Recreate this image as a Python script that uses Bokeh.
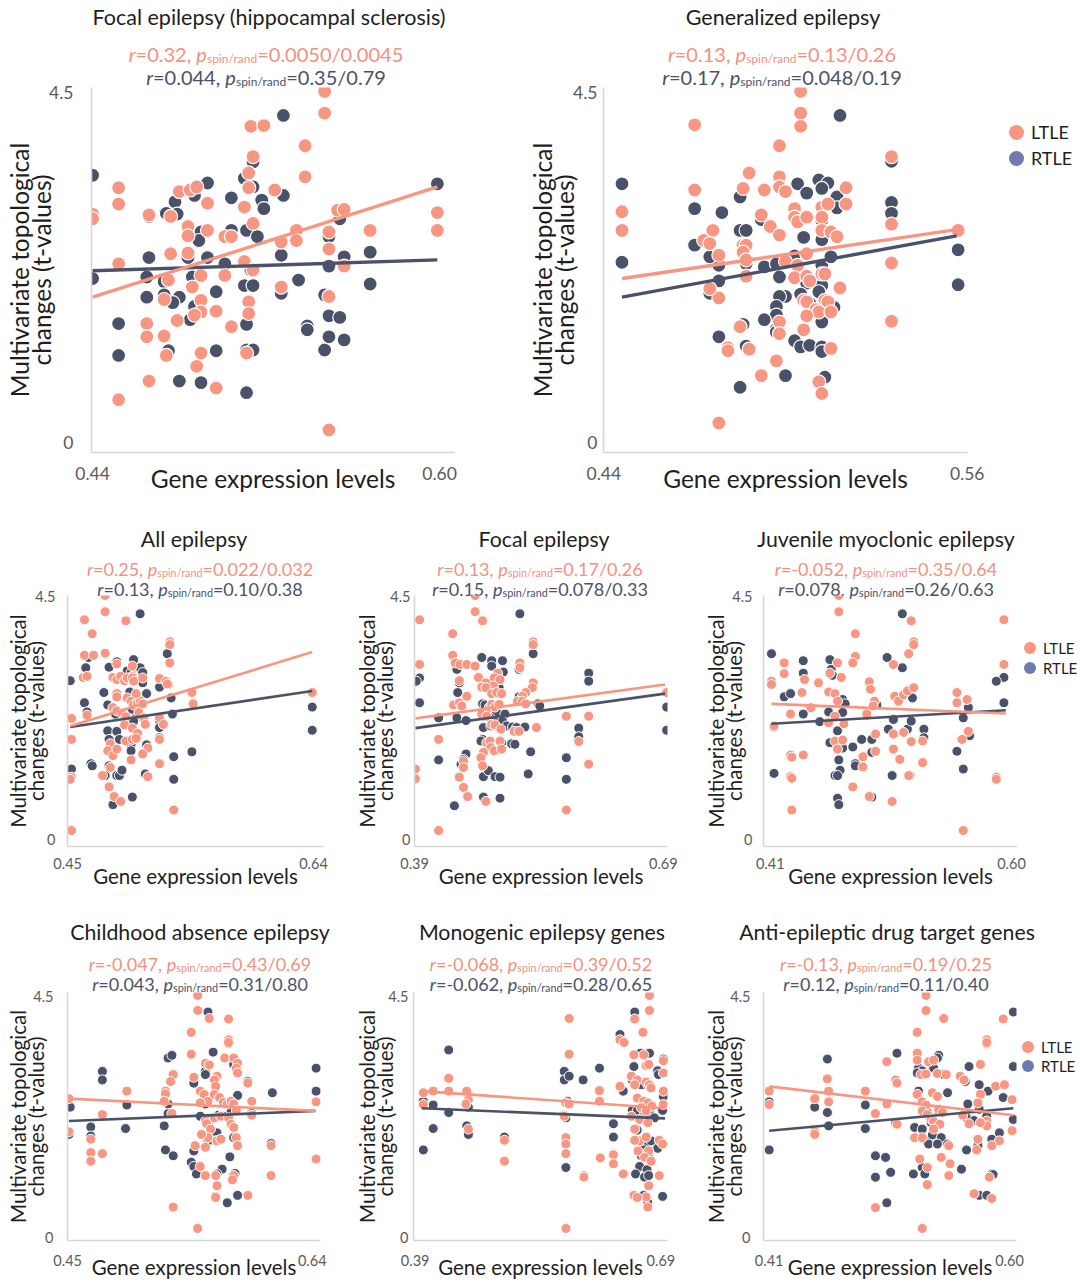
from bokeh.plotting import figure
from bokeh.models import (ColumnDataSource, FixedTicker, NumeralTickFormatter,
                          Range1d, Div)
from bokeh.layouts import row, column
from bokeh.embed import file_html
from bokeh.resources import INLINE

SALMON = "#F89682"
SALMON_TXT = "#F4917E"
NAVY = "#4A526A"
LEG_NAVY = "#6E7BB0"
FONT = "Lato"

# ----------------------------- data -----------------------------
y_tick_values = [0, 4.5]
x_axis_title = "Gene expression levels"
y_axis_title = "Multivariate topological\nchanges (t-values)"
legend_labels = ["LTLE", "RTLE"]

# Focal epilepsy (hippocampal sclerosis)
hs_title = "Focal epilepsy (hippocampal sclerosis)"
hs_stats = [("0.32", "0.0050/0.0045"), ("0.044", "0.35/0.79")]
hs_xticks = [0.44, 0.60]
hs_ltle_x = [0.547,0.547,0.513,0.519,0.538,0.514,0.538,0.512,0.512,0.452,0.480,0.485,0.488,0.524,0.493,0.452,0.510,0.440,0.440,0.466,0.476,0.553,0.556,0.599,0.599,0.568,0.549,0.534,0.484,0.493,0.514,0.484,0.501,0.504,0.527,0.534,0.452,0.476,0.484,0.501,0.510,0.514,0.475,0.473,0.490,0.486,0.497,0.527,0.549,0.556,0.549,0.465,0.465,0.473,0.474,0.479,0.490,0.490,0.487,0.490,0.504,0.512,0.512,0.511,0.488,0.466,0.497,0.452,0.549]
hs_ltle_y = [4.52,4.24,4.07,4.08,3.82,3.68,3.42,3.47,3.28,3.28,3.23,3.25,3.29,3.25,3.08,3.07,3.03,2.94,2.88,2.93,2.91,2.99,3.00,2.96,2.73,2.73,2.71,2.73,2.78,2.73,2.82,2.66,2.65,2.65,2.58,2.60,2.30,2.43,2.44,2.15,2.33,2.22,2.09,1.84,2.15,2.00,1.69,2.00,1.88,2.27,2.49,1.53,1.36,1.37,1.12,1.57,1.83,1.68,1.64,1.15,1.49,1.81,1.66,1.15,0.98,0.79,0.70,0.55,0.16]
hs_rtle_x = [0.528,0.514,0.440,0.510,0.514,0.493,0.487,0.528,0.504,0.478,0.518,0.519,0.599,0.466,0.474,0.479,0.554,0.549,0.490,0.504,0.511,0.489,0.516,0.568,0.466,0.484,0.493,0.501,0.513,0.527,0.440,0.465,0.473,0.473,0.480,0.477,0.465,0.486,0.510,0.514,0.497,0.527,0.535,0.547,0.568,0.556,0.549,0.452,0.452,0.475,0.487,0.485,0.497,0.511,0.511,0.514,0.480,0.490,0.511,0.539,0.539,0.547,0.549,0.554,0.549,0.556]
hs_rtle_y = [4.21,3.61,3.44,3.40,3.29,3.34,3.18,3.18,3.15,3.10,3.12,3.01,3.33,2.91,2.95,2.94,2.88,2.65,2.71,2.73,2.73,2.60,2.65,2.45,2.38,2.38,2.38,2.30,2.22,2.41,2.11,2.13,2.07,1.90,1.87,1.80,1.87,2.13,2.02,2.02,1.94,1.92,2.09,1.90,2.04,2.39,2.27,1.53,1.12,1.18,1.75,1.58,1.18,1.52,1.19,1.19,0.79,0.77,0.64,1.50,1.45,1.19,1.63,1.61,1.36,1.32]
hs_fit_x = [0.440, 0.599]
hs_fit_ltle = [1.87, 3.29]
hs_fit_rtle = [2.21, 2.35]

# Generalized epilepsy
ge_title = "Generalized epilepsy"
ge_stats = [("0.13", "0.13/0.26"), ("0.17", "0.048/0.19")]
ge_xticks = [0.44, 0.56]
ge_ltle_x = [0.505,0.505,0.505,0.470,0.498,0.535,0.488,0.498,0.498,0.520,0.470,0.486,0.493,0.500,0.520,0.535,0.446,0.446,0.492,0.503,0.503,0.504,0.507,0.512,0.514,0.512,0.476,0.495,0.498,0.512,0.515,0.517,0.557,0.473,0.475,0.486,0.487,0.478,0.486,0.487,0.500,0.504,0.507,0.512,0.513,0.535,0.535,0.478,0.475,0.487,0.503,0.507,0.508,0.518,0.506,0.507,0.513,0.514,0.510,0.511,0.515,0.498,0.507,0.485,0.498,0.506,0.481,0.481,0.488,0.515,0.497,0.492,0.511,0.512,0.478]
ge_ltle_y = [4.52,4.24,4.07,4.09,3.82,3.68,3.47,3.42,3.29,3.28,3.25,3.27,3.25,3.23,3.07,2.81,2.97,2.73,2.93,3.01,2.90,2.84,2.90,3.03,3.07,2.90,2.73,2.78,2.67,2.73,2.71,2.65,2.73,2.60,2.56,2.54,2.54,2.41,2.45,2.35,2.33,2.28,2.43,2.17,2.17,2.31,1.56,1.86,1.98,2.14,2.12,2.14,2.08,1.99,1.83,1.81,1.83,1.81,1.71,1.68,1.68,1.55,1.63,1.49,1.40,1.45,1.22,1.18,1.20,1.21,1.05,0.86,0.78,0.63,0.25]
ge_rtle_x = [0.518,0.535,0.446,0.504,0.511,0.514,0.507,0.512,0.485,0.517,0.535,0.535,0.470,0.479,0.492,0.517,0.512,0.485,0.487,0.506,0.512,0.470,0.557,0.446,0.478,0.475,0.487,0.493,0.497,0.503,0.512,0.515,0.557,0.478,0.475,0.498,0.507,0.512,0.500,0.498,0.505,0.508,0.511,0.516,0.497,0.497,0.512,0.512,0.493,0.486,0.497,0.497,0.478,0.487,0.503,0.505,0.508,0.512,0.512,0.500,0.485,0.513]
ge_rtle_y = [4.21,3.62,3.33,3.33,3.38,3.34,3.21,3.27,3.16,3.16,3.09,2.95,3.01,2.96,2.87,3.02,2.86,2.73,2.73,2.64,2.61,2.54,2.48,2.32,2.28,2.39,2.30,2.26,2.30,2.40,2.28,2.39,2.03,2.08,1.92,2.13,2.05,2.02,1.88,1.88,1.91,1.79,1.94,1.74,1.75,1.64,1.63,1.55,1.58,1.52,1.46,1.42,1.36,1.24,1.31,1.23,1.25,1.23,1.17,0.86,0.71,0.84]
ge_fit_x = [0.446, 0.5565]
ge_fit_ltle = [2.11, 2.74]
ge_fit_rtle = [1.87, 2.66]

# All epilepsy
all_title = "All epilepsy"
all_stats = [("0.25", "0.022/0.032"), ("0.13", "0.10/0.38")]
all_xticks = [0.45, 0.64]
all_ltle_x = [0.479,0.479,0.463,0.495,0.469,0.529,0.529,0.463,0.470,0.479,0.488,0.500,0.500,0.529,0.521,0.526,0.528,0.462,0.465,0.485,0.488,0.491,0.494,0.496,0.500,0.501,0.508,0.488,0.488,0.496,0.499,0.501,0.504,0.506,0.508,0.503,0.527,0.546,0.547,0.639,0.465,0.453,0.453,0.485,0.488,0.492,0.495,0.505,0.509,0.510,0.494,0.500,0.504,0.521,0.524,0.483,0.481,0.485,0.488,0.495,0.500,0.503,0.512,0.508,0.499,0.521,0.521,0.453,0.452,0.477,0.483,0.482,0.486,0.491,0.512,0.532,0.453]
all_ltle_y = [4.52,4.22,4.07,4.05,3.81,3.66,3.61,3.41,3.41,3.45,3.25,3.21,3.02,3.27,2.98,2.93,2.87,3.00,3.02,3.00,2.96,3.02,2.94,2.99,2.99,2.93,2.99,2.70,2.64,2.62,2.56,2.49,2.53,2.57,2.51,2.70,2.88,2.72,2.51,2.72,2.30,2.24,1.85,2.44,2.38,2.33,2.27,2.35,2.25,2.13,2.12,2.06,1.96,2.25,2.13,1.77,1.64,1.55,1.67,1.82,1.85,1.87,1.69,1.58,1.47,1.85,1.40,1.15,1.11,1.18,1.33,0.97,0.79,0.70,1.16,0.54,0.16]
all_rtle_x = [0.506,0.529,0.527,0.466,0.482,0.488,0.501,0.496,0.499,0.506,0.508,0.452,0.464,0.508,0.478,0.498,0.511,0.521,0.530,0.547,0.639,0.639,0.463,0.465,0.453,0.481,0.487,0.500,0.503,0.496,0.501,0.521,0.521,0.531,0.481,0.488,0.490,0.482,0.499,0.499,0.511,0.521,0.532,0.546,0.453,0.468,0.469,0.478,0.479,0.482,0.488,0.490,0.492,0.485,0.500,0.510,0.532]
all_rtle_y = [4.18,3.60,3.44,3.37,3.19,3.29,3.33,3.12,3.09,3.18,3.09,2.94,3.18,2.90,2.72,2.73,2.70,2.82,2.62,2.51,2.45,2.02,2.53,2.36,2.24,2.49,2.32,2.41,2.25,2.19,2.19,2.20,2.07,2.32,2.01,2.00,1.85,1.85,1.76,1.64,1.75,1.88,1.53,1.62,1.30,1.40,1.36,1.18,1.18,1.36,1.18,1.18,1.28,0.64,0.78,1.21,1.11]
all_fit_x = [0.452, 0.639]
all_fit_ltle = [2.10, 3.47]
all_fit_rtle = [2.08, 2.75]

# Focal epilepsy
fe_title = "Focal epilepsy"
fe_stats = [("0.13", "0.17/0.26"), ("0.15", "0.078/0.33")]
fe_xticks = [0.39, 0.69]
fe_ltle_x = [0.463,0.463,0.396,0.472,0.436,0.533,0.533,0.396,0.436,0.439,0.445,0.453,0.463,0.490,0.486,0.493,0.444,0.467,0.476,0.485,0.453,0.471,0.476,0.483,0.489,0.495,0.517,0.517,0.533,0.532,0.524,0.520,0.514,0.520,0.524,0.437,0.444,0.447,0.480,0.485,0.483,0.487,0.492,0.471,0.477,0.483,0.487,0.494,0.510,0.516,0.537,0.573,0.600,0.588,0.694,0.419,0.477,0.481,0.482,0.486,0.493,0.495,0.473,0.470,0.472,0.449,0.449,0.600,0.444,0.391,0.391,0.449,0.454,0.476,0.573,0.419]
fe_ltle_y = [4.52,4.22,4.07,4.05,3.81,3.66,3.61,3.24,3.41,3.27,3.24,3.24,3.21,3.08,2.99,2.96,2.94,3.00,2.90,2.84,2.65,2.82,2.81,2.70,2.72,2.70,3.27,3.18,2.90,2.81,2.72,2.65,2.56,2.56,2.51,2.49,2.53,2.47,2.44,2.47,2.50,2.45,2.50,2.32,2.28,2.13,2.12,2.04,2.00,2.00,2.07,2.28,2.28,1.81,2.72,1.85,1.79,1.82,1.70,1.64,1.82,1.67,1.61,1.51,1.36,1.45,1.33,1.39,1.15,1.30,1.12,0.96,0.79,0.70,0.54,0.16]
fe_rtle_x = [0.517,0.533,0.533,0.396,0.392,0.396,0.441,0.471,0.483,0.483,0.496,0.497,0.444,0.478,0.442,0.492,0.516,0.516,0.539,0.541,0.472,0.475,0.489,0.499,0.474,0.481,0.486,0.419,0.441,0.452,0.496,0.501,0.473,0.482,0.508,0.513,0.523,0.588,0.588,0.694,0.694,0.600,0.600,0.472,0.470,0.495,0.507,0.511,0.452,0.449,0.446,0.419,0.530,0.573,0.444,0.473,0.479,0.487,0.493,0.527,0.573,0.438,0.473,0.493]
fe_rtle_y = [4.18,3.60,3.44,2.99,2.93,2.53,3.15,3.37,3.31,3.21,3.31,3.10,2.90,2.87,2.72,2.81,3.15,2.64,2.51,2.47,2.51,2.49,2.35,2.32,2.28,2.25,2.19,2.25,2.25,2.20,2.19,2.10,2.07,2.10,2.08,2.07,2.08,2.06,1.90,2.45,2.02,3.08,2.93,1.85,1.82,1.79,1.77,1.76,1.58,1.48,1.39,1.47,1.62,1.51,1.16,1.16,1.27,1.16,1.15,1.21,1.11,0.62,0.78,0.76]
fe_fit_x = [0.391, 0.692]
fe_fit_ltle = [2.24, 2.87]
fe_fit_rtle = [2.06, 2.70]

# Juvenile myoclonic epilepsy
jme_title = "Juvenile myoclonic epilepsy"
jme_stats = [("-0.052", "0.35/0.64"), ("0.078", "0.26/0.63")]
jme_xticks = [0.41, 0.60]
jme_ltle_x = [0.464,0.464,0.521,0.594,0.477,0.523,0.523,0.519,0.421,0.477,0.594,0.437,0.421,0.457,0.463,0.475,0.507,0.466,0.411,0.411,0.435,0.448,0.456,0.461,0.463,0.488,0.489,0.492,0.491,0.508,0.511,0.515,0.518,0.523,0.515,0.507,0.521,0.426,0.442,0.413,0.456,0.461,0.468,0.461,0.463,0.467,0.486,0.493,0.493,0.530,0.557,0.557,0.565,0.566,0.561,0.507,0.512,0.519,0.530,0.426,0.427,0.426,0.427,0.436,0.483,0.483,0.475,0.488,0.506,0.427,0.588,0.588,0.562]
jme_ltle_y = [4.52,4.22,4.05,4.07,3.81,3.66,3.61,3.44,3.27,3.39,3.24,2.96,3.07,3.08,3.27,3.27,3.24,3.00,2.93,2.87,2.72,2.90,2.73,2.70,2.56,2.92,2.78,2.56,2.47,2.65,2.56,2.68,2.75,2.81,1.98,1.95,1.81,2.32,2.44,2.10,2.16,2.28,2.14,1.82,1.67,1.84,2.32,1.95,1.63,1.82,2.72,2.53,2.59,2.00,1.85,1.67,1.48,1.18,1.42,1.56,1.52,1.16,1.13,1.56,1.53,1.34,0.97,0.79,0.70,0.54,1.15,1.11,0.16]
jme_rtle_x = [0.514,0.523,0.411,0.594,0.588,0.594,0.436,0.436,0.457,0.458,0.459,0.502,0.514,0.421,0.426,0.467,0.469,0.467,0.488,0.494,0.522,0.507,0.503,0.518,0.521,0.436,0.449,0.413,0.456,0.463,0.467,0.475,0.457,0.486,0.482,0.490,0.490,0.531,0.531,0.562,0.566,0.567,0.557,0.562,0.506,0.520,0.426,0.413,0.464,0.465,0.461,0.463,0.477,0.477,0.463,0.464,0.490]
jme_rtle_y = [4.18,3.60,3.44,3.00,2.93,2.53,3.31,3.08,3.33,3.15,3.04,3.37,3.18,2.64,2.70,2.59,2.51,2.35,2.90,2.49,2.62,2.22,2.04,2.04,2.19,2.32,2.18,2.08,2.36,2.01,1.69,1.71,1.79,2.30,1.85,1.85,1.61,2.04,1.88,2.25,2.44,1.92,1.63,1.30,1.18,1.18,1.53,1.22,1.47,1.28,1.18,1.18,1.40,1.36,0.76,0.64,0.78]
jme_fit_x = [0.411, 0.5955]
jme_fit_ltle = [2.51, 2.33]
jme_fit_rtle = [2.14, 2.39]

# Childhood absence epilepsy
cae_title = "Childhood absence epilepsy"
cae_stats = [("-0.047", "0.43/0.69"), ("0.043", "0.31/0.80")]
cae_xticks = [0.45, 0.64]
cae_ltle_x = [0.551,0.551,0.560,0.575,0.546,0.575,0.575,0.546,0.557,0.560,0.572,0.579,0.582,0.581,0.582,0.566,0.548,0.532,0.530,0.564,0.565,0.477,0.590,0.643,0.643,0.451,0.451,0.496,0.526,0.526,0.525,0.531,0.553,0.556,0.559,0.553,0.564,0.568,0.571,0.574,0.577,0.579,0.581,0.593,0.593,0.564,0.569,0.557,0.558,0.561,0.559,0.566,0.569,0.575,0.577,0.579,0.581,0.582,0.554,0.557,0.549,0.553,0.557,0.565,0.579,0.578,0.566,0.565,0.590,0.608,0.608,0.468,0.468,0.477,0.468,0.532,0.551]
cae_ltle_y = [4.52,4.24,4.09,4.08,3.83,3.69,3.64,3.42,3.25,3.22,3.35,3.35,3.25,3.16,3.07,3.01,2.99,3.04,2.91,2.94,2.82,2.29,2.88,2.53,1.46,2.59,1.97,2.73,2.73,2.68,2.54,2.31,2.73,2.67,2.54,2.51,2.67,2.61,2.52,2.49,2.54,2.49,2.37,2.54,2.28,2.23,2.26,2.17,2.12,2.02,1.86,1.80,1.83,2.23,2.11,2.05,1.86,1.71,1.92,1.68,1.71,1.32,1.15,1.15,1.15,1.07,0.96,0.74,0.78,1.71,1.15,1.58,1.42,1.56,1.83,0.56,0.16]
cae_rtle_x = [0.559,0.575,0.528,0.531,0.563,0.557,0.557,0.579,0.548,0.477,0.477,0.590,0.609,0.643,0.643,0.452,0.451,0.496,0.495,0.528,0.528,0.525,0.526,0.532,0.557,0.572,0.577,0.582,0.593,0.567,0.571,0.561,0.553,0.566,0.565,0.579,0.576,0.559,0.548,0.546,0.548,0.550,0.570,0.580,0.566,0.565,0.574,0.582,0.608,0.468,0.468]
cae_rtle_y = [4.21,3.62,3.35,3.40,3.46,3.10,3.04,3.23,2.88,3.10,2.94,2.91,2.70,3.16,2.73,2.43,1.92,2.47,2.03,2.49,2.31,2.08,1.63,1.52,2.49,2.49,2.36,2.65,2.31,2.28,2.26,2.20,2.26,1.95,1.80,1.86,1.50,1.80,1.61,1.40,1.32,1.18,1.27,1.19,1.18,0.76,0.64,0.78,1.75,2.06,1.89]
cae_fit_x = [0.451, 0.6425]
cae_fit_ltle = [2.59, 2.36]
cae_fit_rtle = [2.17, 2.36]

# Monogenic epilepsy genes
mono_title = "Monogenic epilepsy genes"
mono_stats = [("-0.068", "0.39/0.52"), ("-0.062", "0.28/0.65")]
mono_xticks = [0.39, 0.69]
mono_ltle_x = [0.676,0.676,0.658,0.578,0.668,0.640,0.645,0.431,0.578,0.657,0.669,0.672,0.675,0.693,0.693,0.640,0.654,0.661,0.658,0.672,0.676,0.678,0.615,0.615,0.400,0.400,0.412,0.431,0.453,0.455,0.452,0.574,0.578,0.572,0.693,0.693,0.661,0.669,0.674,0.679,0.666,0.672,0.654,0.664,0.674,0.632,0.632,0.616,0.455,0.499,0.499,0.574,0.574,0.574,0.596,0.596,0.644,0.658,0.664,0.672,0.658,0.675,0.662,0.670,0.678,0.675,0.657,0.672,0.674,0.688,0.688,0.692,0.661,0.574]
mono_ltle_y = [4.52,4.24,4.08,4.09,3.83,3.69,3.64,2.97,3.42,3.41,3.41,3.21,3.23,3.30,3.07,2.82,3.01,2.94,2.85,2.90,2.85,2.79,2.74,2.54,2.70,2.48,2.73,2.73,2.73,2.57,2.49,2.51,2.49,2.26,2.73,2.48,2.60,2.54,2.51,2.45,2.42,2.36,2.26,2.20,2.14,1.54,1.37,1.48,2.02,1.81,1.42,1.86,1.74,1.56,1.15,1.12,1.18,2.02,1.80,1.87,1.81,1.61,1.61,1.49,1.42,0.96,0.78,0.75,0.56,1.15,1.81,1.74,0.74,0.16]
mono_rtle_x = [0.658,0.640,0.431,0.665,0.676,0.657,0.615,0.693,0.686,0.687,0.572,0.572,0.578,0.595,0.644,0.655,0.666,0.674,0.615,0.400,0.412,0.431,0.455,0.576,0.572,0.574,0.693,0.692,0.655,0.661,0.670,0.676,0.682,0.632,0.632,0.400,0.412,0.455,0.453,0.499,0.574,0.645,0.661,0.668,0.674,0.678,0.669,0.666,0.675,0.664,0.659,0.673,0.670,0.675,0.669,0.674,0.692,0.686]
mono_rtle_y = [4.21,3.79,3.50,3.44,3.44,3.19,3.16,3.33,3.11,3.04,3.10,2.94,3.01,2.94,2.73,2.94,2.85,2.85,2.73,2.54,2.47,2.33,2.43,2.54,2.28,2.23,2.63,2.37,2.37,2.36,2.29,2.31,2.23,2.12,1.87,1.63,2.03,1.92,2.08,1.87,1.30,1.18,2.00,1.81,1.74,1.80,1.63,1.52,1.49,1.32,1.18,1.26,1.12,1.15,0.78,0.64,0.76,1.66]
mono_fit_x = [0.398, 0.695]
mono_fit_ltle = [2.73, 2.41]
mono_fit_rtle = [2.41, 2.22]

# Anti-epileptic drug target genes
aed_title = "Anti-epileptic drug target genes"
aed_stats = [("-0.13", "0.19/0.25"), ("0.12", "0.11/0.40")]
aed_xticks = [0.41, 0.60]
aed_ltle_x = [0.534,0.534,0.548,0.595,0.527,0.582,0.582,0.503,0.527,0.527,0.536,0.540,0.530,0.534,0.543,0.550,0.577,0.561,0.564,0.510,0.511,0.456,0.589,0.577,0.575,0.527,0.531,0.534,0.539,0.543,0.410,0.410,0.446,0.457,0.457,0.486,0.494,0.503,0.511,0.446,0.446,0.596,0.602,0.582,0.582,0.577,0.563,0.568,0.531,0.535,0.538,0.544,0.547,0.540,0.545,0.540,0.525,0.531,0.552,0.592,0.575,0.574,0.586,0.602,0.529,0.535,0.553,0.546,0.552,0.584,0.535,0.494,0.572,0.586,0.531]
aed_ltle_y = [4.52,4.24,4.09,4.08,3.83,3.69,3.64,3.28,3.44,3.31,3.28,3.31,3.04,3.05,3.06,3.04,3.23,3.01,2.94,2.94,2.88,2.96,2.82,2.67,2.51,2.67,2.53,2.47,2.70,2.63,2.73,2.48,2.59,2.73,2.53,2.73,2.31,2.49,2.11,1.97,1.92,2.85,2.57,2.17,2.08,2.14,2.28,2.12,2.36,2.29,2.20,2.39,2.33,2.16,2.11,2.02,1.86,1.86,1.71,1.80,1.83,1.63,1.71,1.99,1.46,1.30,1.37,1.49,1.15,1.12,0.98,0.55,0.81,0.72,0.16]
aed_rtle_x = [0.603,0.582,0.456,0.511,0.544,0.543,0.528,0.531,0.527,0.540,0.548,0.568,0.603,0.565,0.576,0.583,0.575,0.528,0.551,0.410,0.410,0.446,0.456,0.457,0.486,0.486,0.510,0.595,0.582,0.567,0.566,0.576,0.572,0.535,0.538,0.544,0.525,0.531,0.540,0.534,0.539,0.546,0.536,0.543,0.551,0.592,0.586,0.575,0.603,0.566,0.531,0.562,0.524,0.533,0.586,0.587,0.494,0.502,0.494,0.506,0.503,0.576,0.582]
aed_rtle_y = [4.21,3.62,3.33,3.44,3.40,3.35,3.16,3.11,3.07,3.16,3.04,3.19,3.19,2.91,2.85,2.73,2.49,2.73,2.70,2.53,1.63,2.43,2.33,2.08,2.47,2.03,2.14,2.61,2.26,2.49,2.23,2.39,2.18,2.33,2.14,2.36,2.05,2.02,1.99,1.81,1.91,1.86,1.74,1.74,1.74,1.95,1.83,1.71,2.20,1.63,1.30,1.27,1.18,1.18,1.18,1.17,1.52,1.49,1.12,1.21,0.64,0.78,0.78]
aed_fit_x = [0.410, 0.603]
aed_fit_ltle = [2.82, 2.28]
aed_fit_rtle = [1.99, 2.41]

# ----------------------------- layout / style -----------------------------
BIG = dict(div_h=92, div_mb=-14, fig_h=427, bt=9, bb=53, title_cy=18, s1_cy=54, s2_cy=77,
           title_fs=21.5, stats_fs=20, tick_fs=17.5, label_fs=24.5, ylab_lh=0.764,
           ms=14, mlw=1.2, flw=3.4, x_ts=14, x_ls=-19, yr=(-0.13, 4.57))
ROW2 = dict(div_h=96, div_mb=-15, fig_h=309, bt=9, bb=49, title_cy=35, s1_cy=64, s2_cy=84,
            title_fs=21.3, stats_fs=18, tick_fs=14.5, label_fs=20.5, ylab_lh=0.78,
            ms=10, mlw=1.0, flw=2.6, x_ts=11, x_ls=-8, yr=(-0.136, 4.52))
ROW3 = dict(div_h=101, div_mb=-14, fig_h=301, bt=10, bb=43, title_cy=38, s1_cy=69, s2_cy=89,
            title_fs=21.3, stats_fs=18, tick_fs=14.5, label_fs=20.5, ylab_lh=0.78,
            ms=10, mlw=1.0, flw=2.6, x_ts=14, x_ls=-14, yr=(-0.065, 4.576))

panels = [
    dict(st=BIG, w=520, bl=91, br=66, xr=(0.4395, 0.6069), y_ts=18, y_ls=-10,
         title_cx=269, stats_cx=266, title=hs_title, stats=hs_stats, xt=hs_xticks,
         lx=hs_ltle_x, ly=hs_ltle_y, rx=hs_rtle_x, ry=hs_rtle_y,
         fx=hs_fit_x, fl=hs_fit_ltle, fr=hs_fit_rtle, legend=None),
    dict(st=BIG, w=560, bl=83, br=113, xr=(0.4399, 0.5601), y_ts=6, y_ls=-9,
         title_cx=263, stats_cx=262, title=ge_title, stats=ge_stats, xt=ge_xticks,
         lx=ge_ltle_x, ly=ge_ltle_y, rx=ge_rtle_x, ry=ge_rtle_y,
         fx=ge_fit_x, fl=ge_fit_ltle, fr=ge_fit_rtle,
         legend=dict(cx=496, tx=511, ys=(132, 158), d=15, fs=18)),
    dict(st=ROW2, w=350, bl=67, br=27, xr=(0.4499, 0.6477), y_ts=12, y_ls=-16,
         title_cx=194, stats_cx=200, title=all_title, stats=all_stats, xt=all_xticks,
         lx=all_ltle_x, ly=all_ltle_y, rx=all_rtle_x, ry=all_rtle_y,
         fx=all_fit_x, fl=all_fit_ltle, fr=all_fit_rtle, legend=None),
    dict(st=ROW2, w=342, bl=64, br=25, xr=(0.3899, 0.695), y_ts=4, y_ls=-10,
         title_cx=194, stats_cx=190, title=fe_title, stats=fe_stats, xt=fe_xticks,
         lx=fe_ltle_x, ly=fe_ltle_y, rx=fe_rtle_x, ry=fe_rtle_y,
         fx=fe_fit_x, fl=fe_fit_ltle, fr=fe_fit_rtle, legend=None),
    dict(st=ROW2, w=388, bl=71, br=63, xr=(0.4047, 0.6047), y_ts=11, y_ls=-17,
         title_cx=194, stats_cx=194, title=jme_title, stats=jme_stats, xt=jme_xticks,
         lx=jme_ltle_x, ly=jme_ltle_y, rx=jme_rtle_x, ry=jme_rtle_y,
         fx=jme_fit_x, fl=jme_fit_ltle, fr=jme_fit_rtle,
         legend=dict(cx=338, tx=351, ys=(143, 163), d=12, fs=15)),
    dict(st=ROW3, w=350, bl=67, br=30, xr=(0.4499, 0.6464), y_ts=14, y_ls=-18,
         title_cx=200, stats_cx=200, title=cae_title, stats=cae_stats, xt=cae_xticks,
         lx=cae_ltle_x, ly=cae_ltle_y, rx=cae_rtle_x, ry=cae_rtle_y,
         fx=cae_fit_x, fl=cae_fit_ltle, fr=cae_fit_rtle, legend=None),
    dict(st=ROW3, w=342, bl=63, br=25, xr=(0.388, 0.698), y_ts=5, y_ls=-12,
         title_cx=192, stats_cx=191, title=mono_title, stats=mono_stats, xt=mono_xticks,
         lx=mono_ltle_x, ly=mono_ltle_y, rx=mono_rtle_x, ry=mono_rtle_y,
         fx=mono_fit_x, fl=mono_fit_ltle, fr=mono_fit_rtle, legend=None),
    dict(st=ROW3, w=388, bl=71, br=64, xr=(0.4055, 0.6055), y_ts=13, y_ls=-19,
         title_cx=195, stats_cx=194, title=aed_title, stats=aed_stats, xt=aed_xticks,
         lx=aed_ltle_x, ly=aed_ltle_y, rx=aed_rtle_x, ry=aed_rtle_y,
         fx=aed_fit_x, fl=aed_fit_ltle, fr=aed_fit_rtle,
         legend=dict(cx=336, tx=349, ys=(152, 171), d=12, fs=15)),
]


def line_div(cx, cy, fs, color, inner):
    return (f'<div style="position:absolute;left:{cx}px;top:{cy - fs / 2:.1f}px;'
            f'transform:translateX(-50%);white-space:nowrap;font-family:{FONT},sans-serif;'
            f'font-size:{fs}px;line-height:{fs}px;color:{color};">{inner}</div>')


def stats_inner(r, pv):
    return (f'<i>r</i>={r}, <i>p</i><sub style="font-size:0.6em;vertical-align:-0.12em;'
            f'line-height:0;">spin/rand</sub>={pv}')


def legend_html(lg):
    out = ""
    for label, color, cy in zip(legend_labels, [SALMON, LEG_NAVY], lg["ys"]):
        r = lg["d"] / 2
        out += (f'<div style="position:absolute;left:{lg["cx"] - r}px;top:{cy - r}px;'
                f'width:{lg["d"]}px;height:{lg["d"]}px;border-radius:50%;background:{color};"></div>')
        out += (f'<div style="position:absolute;left:{lg["tx"]}px;top:{cy - lg["fs"] / 2:.1f}px;'
                f'white-space:nowrap;font-family:{FONT},sans-serif;font-size:{lg["fs"]}px;'
                f'line-height:{lg["fs"]}px;color:#1e1e1e;">{label}</div>')
    return out


def header(cfg):
    st = cfg["st"]
    h = st["div_h"]
    lg = cfg["legend"]
    extra = ""
    if lg is not None:
        h = max(h, int(max(lg["ys"]) + lg["fs"]))
        extra = legend_html(lg)
    mb = st["div_mb"] - (h - st["div_h"])
    html = (f'<div style="position:relative;width:{cfg["w"]}px;height:{h}px;">'
            + line_div(cfg["title_cx"], st["title_cy"], st["title_fs"], "#1e1e1e", cfg["title"])
            + line_div(cfg["stats_cx"], st["s1_cy"], st["stats_fs"], SALMON_TXT, stats_inner(*cfg["stats"][0]))
            + line_div(cfg["stats_cx"], st["s2_cy"], st["stats_fs"], NAVY, stats_inner(*cfg["stats"][1]))
            + extra + '</div>')
    return Div(text=html, width=cfg["w"], height=h, margin=(0, 0, mb, 0))


def src(xs, ys):
    n = min(len(xs), len(ys))
    return ColumnDataSource(dict(x=list(xs[:n]), y=list(ys[:n])))


def build(cfg):
    st = cfg["st"]
    p = figure(width=cfg["w"], height=st["fig_h"],
               x_range=Range1d(*cfg["xr"]), y_range=Range1d(*st["yr"]),
               output_backend="svg", toolbar_location=None,
               min_border_left=cfg["bl"], min_border_right=cfg["br"],
               min_border_top=st["bt"], min_border_bottom=st["bb"])
    p.xgrid.visible = False
    p.ygrid.visible = False
    p.outline_line_color = None
    p.background_fill_color = None
    p.border_fill_color = None

    for ax in (p.xaxis[0], p.yaxis[0]):
        ax.axis_line_color = "#d6d6d6"
        ax.axis_line_width = 1.6
        ax.major_tick_line_color = None
        ax.minor_tick_line_color = None
        ax.major_tick_out = 0
        ax.major_tick_in = 0
        ax.major_label_text_font = FONT
        ax.major_label_text_font_size = f'{st["tick_fs"]}px'
        ax.major_label_text_color = "#5a5a5a"
        ax.axis_label_text_font = FONT
        ax.axis_label_text_font_size = f'{st["label_fs"]}px'
        ax.axis_label_text_font_style = "normal"
        ax.axis_label_text_color = "#1e1e1e"

    xa = p.xaxis[0]
    xa.ticker = FixedTicker(ticks=cfg["xt"])
    xa.formatter = NumeralTickFormatter(format="0.00")
    xa.major_label_standoff = st["x_ts"]
    xa.axis_label = x_axis_title
    xa.axis_label_standoff = st["x_ls"]

    ya = p.yaxis[0]
    ya.ticker = FixedTicker(ticks=y_tick_values)
    ya.formatter = NumeralTickFormatter(format="0.[0]")
    ya.major_label_standoff = cfg["y_ts"]
    ya.axis_label = y_axis_title
    ya.axis_label_standoff = cfg["y_ls"]
    ya.axis_label_text_line_height = st["ylab_lh"]

    p.scatter("x", "y", source=src(cfg["rx"], cfg["ry"]), size=st["ms"],
              fill_color=NAVY, line_color="white", line_width=st["mlw"])
    p.scatter("x", "y", source=src(cfg["lx"], cfg["ly"]), size=st["ms"],
              fill_color=SALMON, line_color="white", line_width=st["mlw"])
    p.line(cfg["fx"], cfg["fr"], line_color=NAVY, line_width=st["flw"])
    p.line(cfg["fx"], cfg["fl"], line_color=SALMON, line_width=st["flw"])
    return column(header(cfg), p, spacing=0)


cols = [build(c) for c in panels]
layout = column(row(cols[0], cols[1], spacing=0),
                row(cols[2], cols[3], cols[4], spacing=0),
                row(cols[5], cols[6], cols[7], spacing=0), spacing=0)

with open("out.html", "w") as f:
    f.write(file_html(layout, INLINE, title="Gene expression vs topological changes"))
